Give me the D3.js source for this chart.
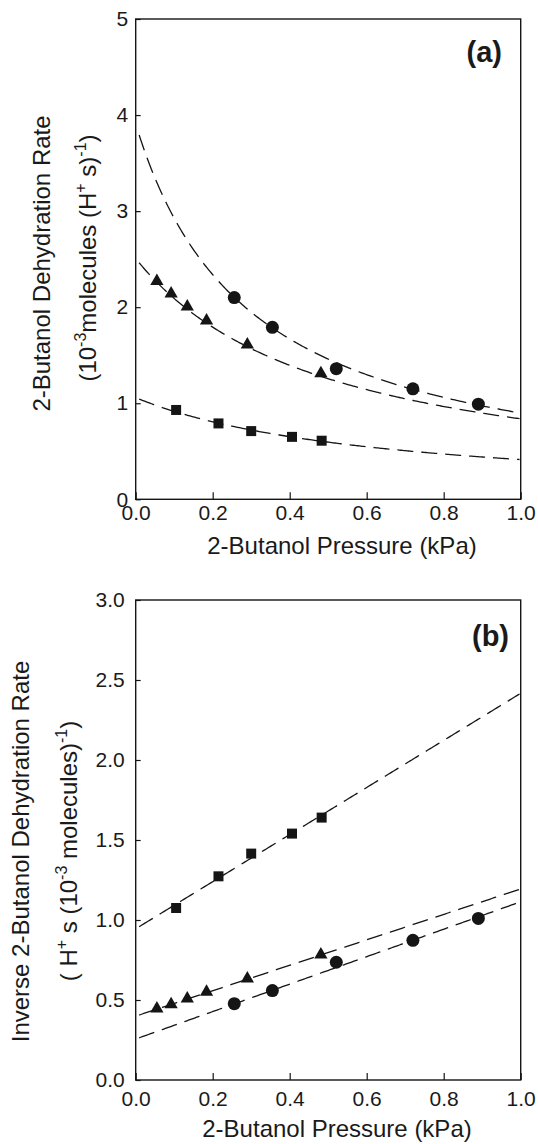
<!DOCTYPE html>
<html><head><meta charset="utf-8">
<script src="https://cdn.jsdelivr.net/npm/d3@7"></script>
<style>
body{margin:0;background:#fff}
svg{display:block;background:#fff}
text{font-family:"Liberation Sans",Arial,sans-serif;fill:#1a1a1a}
</style>
</head><body>
<svg id="c" width="538" height="1144"></svg>
<script>
// ---- data ----
const pressureCircle   = [0.256, 0.355, 0.521, 0.720, 0.890];
const rateCircle       = [2.10, 1.79, 1.36, 1.15, 0.99];
const invRateCircle    = [0.477, 0.559, 0.736, 0.873, 1.01];

const pressureTriangle = [0.055, 0.092, 0.134, 0.184, 0.290, 0.481];
const rateTriangle     = [2.27, 2.14, 2.005, 1.86, 1.61, 1.31];
const invRateTriangle  = [0.446, 0.473, 0.509, 0.550, 0.634, 0.784];

const pressureSquare   = [0.105, 0.215, 0.300, 0.406, 0.483];
const rateSquare       = [0.93, 0.79, 0.71, 0.65, 0.61];
const invRateSquare    = [1.075, 1.273, 1.415, 1.54, 1.64];

// linear fits of inverse rate: 1/r = intercept + slope * P
const fitNames     = ["circle", "triangle", "square"];
const fitIntercept = [0.256, 0.399, 0.945];
const fitSlope     = [0.858, 0.795, 1.472];
const fitPressureRange = [0.009, 1.0];

const xTickValues  = [0, 0.2, 0.4, 0.6, 0.8, 1.0];
const yTicksA      = [0, 1, 2, 3, 4, 5];
const yTicksB      = [0, 0.5, 1.0, 1.5, 2.0, 2.5, 3.0];

// ---- drawing ----
const svg = d3.select("#c");
const INK = "#151515";

function series(px, py){ return px.map((p,i)=>({x:p, y:py[i]})); }

function drawPanel(o){
  const g = svg.append("g");
  const x = d3.scaleLinear().domain([0,1]).range([135.7, 520.7]);
  const y = d3.scaleLinear().domain(o.yDomain).range([o.bottom, o.top]);

  const clipId = "clip"+o.id;
  g.append("clipPath").attr("id", clipId).append("rect")
    .attr("x", x(0)).attr("y", y(o.yDomain[1]))
    .attr("width", x(1)-x(0)).attr("height", y(o.yDomain[0])-y(o.yDomain[1]));

  // fit curves
  const line = d3.line().x(d=>x(d.x)).y(d=>y(d.y));
  const samples = d3.range(fitPressureRange[0], fitPressureRange[1]+1e-9, 0.004);
  fitNames.forEach((n,i)=>{
    const pts = samples.map(p=>{
      const inv = fitIntercept[i] + fitSlope[i]*p;
      return {x:p, y: o.inverse ? inv : 1/inv};
    });
    g.append("path").attr("d", line(pts))
      .attr("clip-path", `url(#${clipId})`)
      .attr("fill","none").attr("stroke", INK).attr("stroke-width",1.3)
      .attr("stroke-dasharray","16,8");
  });

  // markers
  const circ = series(pressureCircle, o.inverse ? invRateCircle : rateCircle);
  const tri  = series(pressureTriangle, o.inverse ? invRateTriangle : rateTriangle);
  const sq   = series(pressureSquare, o.inverse ? invRateSquare : rateSquare);
  g.selectAll(".c").data(circ).enter().append("circle")
    .attr("cx", d=>x(d.x)).attr("cy", d=>y(d.y)).attr("r", 6.5).attr("fill", INK);
  const triSym = d3.symbol(d3.symbolTriangle).size(76);
  g.selectAll(".t").data(tri).enter().append("path")
    .attr("d", triSym).attr("transform", d=>`translate(${x(d.x)},${y(d.y)})`).attr("fill", INK);
  const sqSym = d3.symbol(d3.symbolSquare).size(100);
  g.selectAll(".s").data(sq).enter().append("path")
    .attr("d", sqSym).attr("transform", d=>`translate(${x(d.x)},${y(d.y)})`).attr("fill", INK);

  // frame
  g.append("rect").attr("x", x(0)).attr("y", y(o.yDomain[1]))
    .attr("width", x(1)-x(0)).attr("height", y(o.yDomain[0])-y(o.yDomain[1]))
    .attr("fill","none").attr("stroke", INK).attr("stroke-width",1.4);

  // axes
  const xa = g.append("g").attr("transform", `translate(0,${o.bottom})`)
    .call(d3.axisBottom(x).tickValues(xTickValues).tickFormat(d3.format(".1f"))
      .tickSizeInner(-7).tickSizeOuter(0).tickPadding(o.xPad));
  const ya = g.append("g").attr("transform", `translate(${x(0)},0)`)
    .call(d3.axisLeft(y).tickValues(o.yTicks).tickFormat(d3.format(o.yFmt))
      .tickSizeInner(-5).tickSizeOuter(0).tickPadding(o.yPad));
  [xa, ya].forEach(a=>{
    a.attr("font-size", 21).attr("font-family", '"Liberation Sans",Arial,sans-serif');
    a.select(".domain").remove();
    a.selectAll("line").attr("stroke", INK).attr("stroke-width",1.2);
    a.selectAll("text").attr("font-size", 21).attr("fill","#1a1a1a");
  });

  // x title
  g.append("text").attr("x", o.xTitleX).attr("y", o.xTitleY)
    .attr("text-anchor","middle").attr("font-size",24).text("2-Butanol Pressure (kPa)");

  // y title lines
  o.yLines.forEach(l=>{
    const t = g.append("text").attr("transform", `translate(${l.x},${l.cy}) rotate(-90)`)
      .attr("text-anchor","middle").attr("font-size",24);
    let raised = false;
    l.parts.forEach(p=>{
      if (p.sup) {
        t.append("tspan").attr("font-size",16).attr("dy",-10).text(p.sup);
        raised = true;
      } else {
        const ts = t.append("tspan").text(p.t);
        if (raised) { ts.attr("dy",10); raised = false; }
      }
    });
  });

  // panel tag
  g.append("text").attr("x", o.tagX).attr("y", o.tagY).attr("text-anchor","end")
    .attr("font-size",29).attr("font-weight","bold").text(o.tag);
}

drawPanel({
  id:"a", inverse:false, yDomain:[0,5], top:19, bottom:499.3,
  yTicks:yTicksA, yFmt:"d", xPad:6, yPad:7.5,
  xTitleX:342, xTitleY:554,
  yLines:[
    {x:50, cy:263.5, parts:[{t:"2-Butanol Dehydration Rate"}]},
    {x:96, cy:258, parts:[{t:"(10"},{sup:"-3"},{t:"molecules (H"},{sup:"+"},{t:" s)"},{sup:"-1"},{t:")"}]}
  ],
  tag:"(a)", tagX:502, tagY:62
});

drawPanel({
  id:"b", inverse:true, yDomain:[0,3], top:600, bottom:1080,
  yTicks:yTicksB, yFmt:".1f", xPad:11, yPad:11,
  xTitleX:337, xTitleY:1137,
  yLines:[
    {x:28.5, cy:851.5, parts:[{t:"Inverse 2-Butanol Dehydration Rate"}]},
    {x:76.5, cy:851, parts:[{t:"( H"},{sup:"+"},{t:" s (10"},{sup:"-3"},{t:" molecules)"},{sup:"-1"},{t:")"}]}
  ],
  tag:"(b)", tagX:509, tagY:646
});
</script>
</body></html>
